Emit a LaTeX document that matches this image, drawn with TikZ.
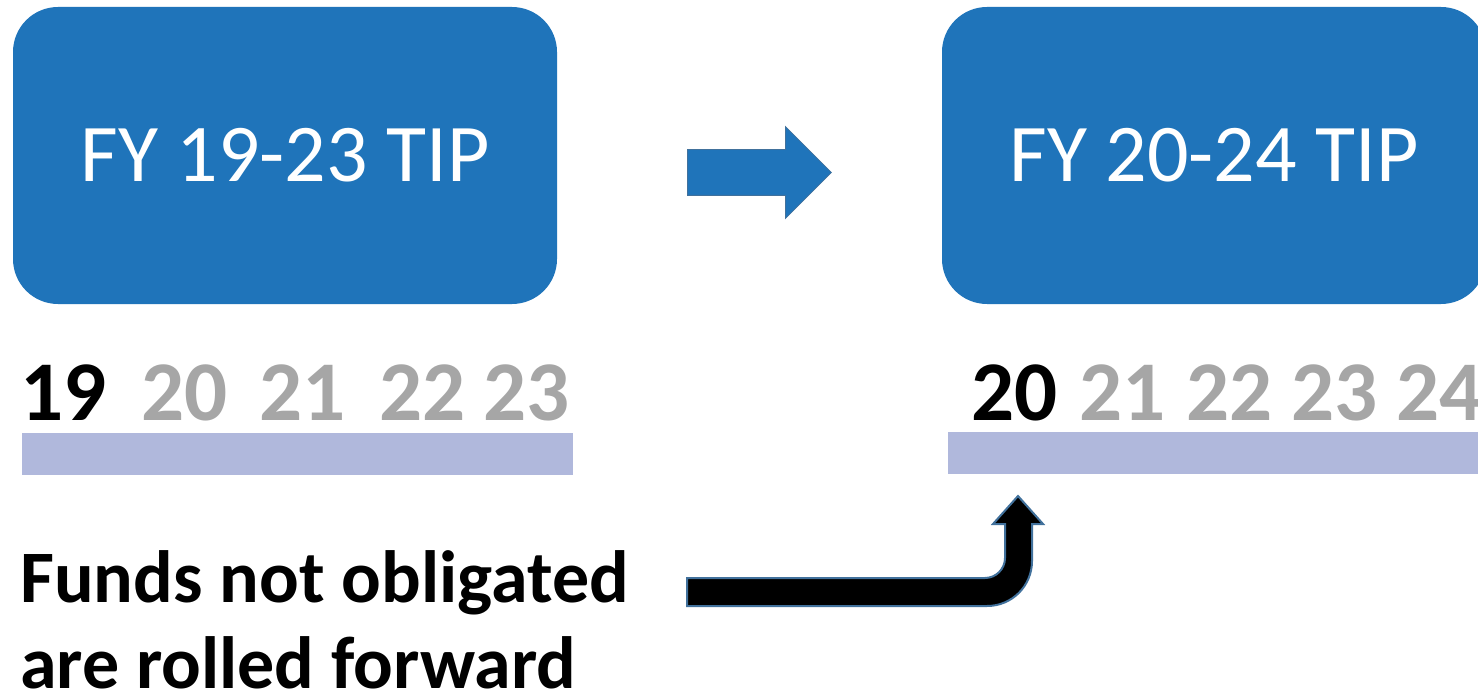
\documentclass[tikz,border=0pt]{standalone}
\usepackage{fontspec}
\setmainfont{Carlito}
\usepackage{tikz}
\usetikzlibrary{positioning, arrows.meta, calc, shapes.arrows}
\definecolor{tipblue}{RGB}{31,116,186}
\definecolor{tipedge}{RGB}{65,113,156}
\definecolor{barblue}{RGB}{176,184,220}
\definecolor{yeargray}{RGB}{166,166,166}

\begin{document}
\begin{tikzpicture}[x=1pt, y=-1pt,
	tipbox/.style={rectangle, rounded corners=45pt, fill=tipblue, text=white,
		minimum width=544pt, minimum height=297pt, inner sep=0pt,
		font=\fontsize{82}{98}\selectfont},
	yearbar/.style={rectangle, fill=barblue, minimum height=42pt, inner sep=0pt},
	year/.style={anchor=base west, inner sep=0pt, text=yeargray,
		font=\bfseries\fontsize{85}{100}\selectfont},
	note/.style={anchor=base west, inner sep=0pt,
		font=\bfseries\fontsize{74}{86}\selectfont}]
		
		\path[use as bounding box, clip] (0,0) rectangle (1478,695);
		\fill[white] (0,0) rectangle (1478,695);
		
		% TIP boxes
		\node[tipbox] (tipold) at (285,155.5) {FY 19-23 TIP};
		\node[tipbox] (tipnew) at (1214,155.5) {FY 20-24 TIP};
		
		% Arrow between the boxes
		\node[single arrow, fill=tipblue, draw=tipedge, line width=0.8pt,
		minimum height=144pt, minimum width=91pt, single arrow head extend=23pt,
		single arrow tip angle=90, inner xsep=0pt, inner ysep=22.5pt,
		anchor=tail] (nextarrow) at (687,172.5) {};
		
		% Years
		\node[year, text=black] (old19) at (20,420) {19};
		\foreach \yr/\xpos in {20/141, 21/259, 22/379, 23/483}
		\node[year] (old\yr) at (\xpos,420) {\yr};
		
		\node[year, text=black] (new20) at (971,420) {20};
		\foreach \yr/\xpos in {21/1079, 22/1186, 23/1291, 24/1396}
		\node[year] (new\yr) at (\xpos,420) {\yr};
		
		% Bars
		\node[yearbar, minimum width=551pt] (oldbar) at (297.5,454) {};
		\node[yearbar, minimum width=542pt] (newbar) at (1219,453) {};
		
		% Note
		\node[note] (notetop) at (20,602) {Funds not obligated};
		\node[note] (notebottom) at (20,688) {are rolled forward};
		
		% Bent arrow
		\coordinate (rolltail) at (687,592);
		\coordinate (rolltip) at (1018,496);
		\filldraw[fill=black, draw=tipedge, line width=2pt, line join=miter]
		(687,578) -- (985,578) .. controls (996,578) and (1005,569) .. (1005,558)
		-- (1005,524) -- (993,524) -- (rolltip) -- (1043,524) -- (1032,524)
		-- (1032,561) .. controls (1032,586) and (1012,606) .. (987,606)
		-- (687,606) -- cycle;
		
	\end{tikzpicture}
\end{document}
